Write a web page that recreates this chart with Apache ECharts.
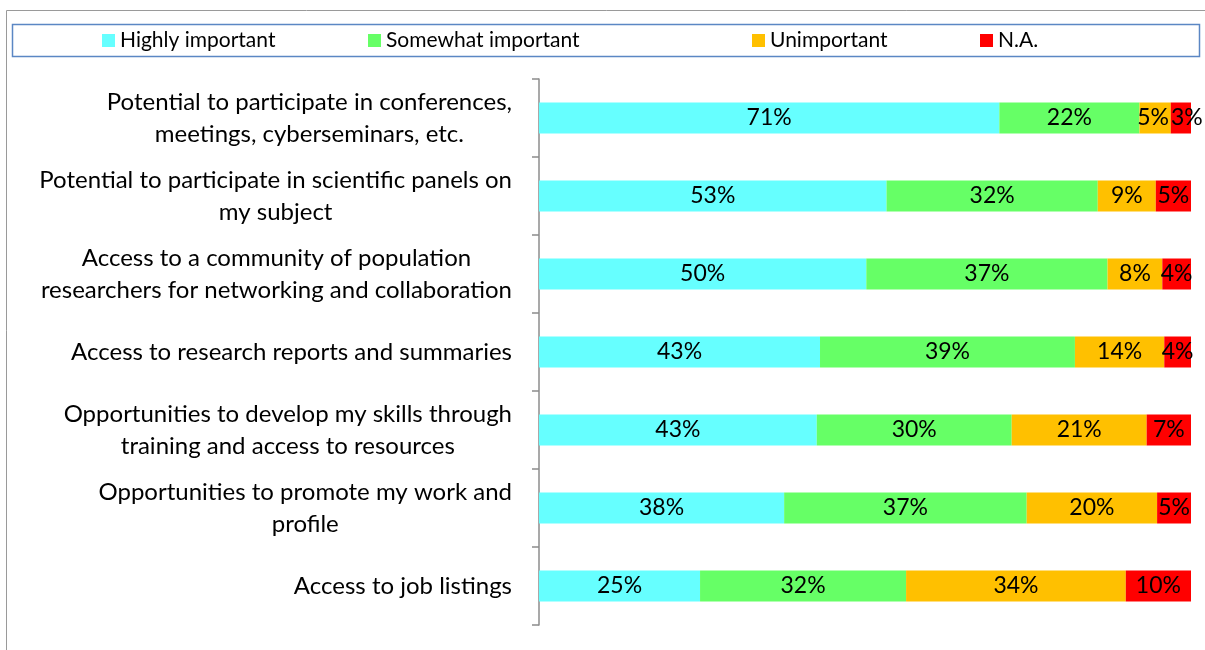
<!doctype html>
<html lang="en">
<head>
<meta charset="UTF-8">
<title>Importance of benefits</title>
<script src="https://cdn.jsdelivr.net/npm/echarts@6/dist/echarts.min.js"></script>
<style>
  html, body { margin: 0; padding: 0; background: #fff; }
  #chart { width: 1205px; height: 650px; }
</style>
</head>
<body>
<div id="chart"></div>
<script>
// categories, top to bottom
var categories = [
    'Potential to participate in conferences,\nmeetings, cyberseminars, etc.',
    'Potential to participate in scientific panels on\nmy subject',
    'Access to a community of population\nresearchers for networking and collaboration',
    'Access to research reports and summaries',
    'Opportunities to develop my skills through\ntraining and access to resources',
    'Opportunities to promote my work and\nprofile',
    'Access to job listings'
];
// shares in percent
var highly    = [70.6, 53.3, 50.2, 43.1, 42.6, 37.6, 24.7];
var somewhat  = [21.5, 32.4, 37.0, 39.1, 29.9, 37.2, 31.6];
var unimp     = [4.8, 8.9, 8.4, 13.7, 20.7, 20.0, 33.7];
var na        = [3.2, 5.4, 4.4, 4.1, 6.8, 5.2, 10.0];

var seriesNames = ['Highly important', 'Somewhat important', 'Unimportant', 'N.A.'];
var colors = ['#66FFFF', '#66FF66', '#FFC000', '#FF0000'];
var legendLeft = [102, 368, 752, 980];

var FONT = 'Lato';
var chart = echarts.init(document.getElementById('chart'));

function makeSeries(name, data, i) {
    return {
        name: name,
        type: 'bar',
        stack: 'total',
        barWidth: 31,
        data: data,
        itemStyle: { color: colors[i] },
        label: {
            show: true,
            position: 'inside',
            color: '#000',
            fontFamily: FONT,
            fontSize: 23,
            formatter: function (p) { return Math.round(p.value) + '%'; }
        }
    };
}

var legends = seriesNames.map(function (n, i) {
    return {
        data: [n],
        left: legendLeft[i],
        top: 30,
        padding: 0,
        icon: 'rect',
        itemWidth: 13,
        itemHeight: 13,
        itemGap: 6,
        selectedMode: false,
        textStyle: { fontFamily: FONT, fontSize: 21, color: '#000' }
    };
});

var naSeries = makeSeries(seriesNames[3], na, 3);
// the thin first N.A. segment: label sits a bit to the right, as in the original
naSeries.data = na.map(function (v, k) {
    return k === 0 ? { value: v, label: { offset: [6, 0] } } : v;
});
var unSeries = makeSeries(seriesNames[2], unimp, 2);
unSeries.data = unimp.map(function (v, k) {
    return k === 0 ? { value: v, label: { offset: [-2, 0] } } : v;
});

var option = {
    animation: false,
    backgroundColor: '#fff',
    color: colors,
    graphic: [
        { type: 'rect', shape: { x: 6.5, y: 10.5, width: 1300, height: 700 },
          style: { fill: 'none', stroke: '#9a9a9a', lineWidth: 1 }, silent: true },
        { type: 'rect', shape: { x: 12.5, y: 24.5, width: 1187, height: 32 },
          style: { fill: 'none', stroke: '#5b87c4', lineWidth: 1.5 }, silent: true }
    ],
    legend: legends,
    grid: { left: 539, right: 14, top: 79, bottom: 25, containLabel: false },
    xAxis: {
        type: 'value',
        min: 0,
        max: 100,
        show: false
    },
    yAxis: {
        type: 'category',
        inverse: true,
        data: categories,
        axisLine: { show: true, lineStyle: { color: '#8c8c8c', width: 1.5 } },
        axisTick: { show: true, length: 7, lineStyle: { color: '#8c8c8c', width: 1.5 } },
        axisLabel: {
            margin: 27,
            align: 'right',
            formatter: function (v) {
                return v.split('\n').map(function (l) { return '{c|' + l + '}'; }).join('\n');
            },
            rich: {
                c: { align: 'center', fontFamily: FONT, fontSize: 24, lineHeight: 32, color: '#000' }
            }
        }
    },
    series: [
        makeSeries(seriesNames[0], highly, 0),
        makeSeries(seriesNames[1], somewhat, 1),
        unSeries,
        naSeries
    ]
};

chart.setOption(option);
</script>
</body>
</html>
